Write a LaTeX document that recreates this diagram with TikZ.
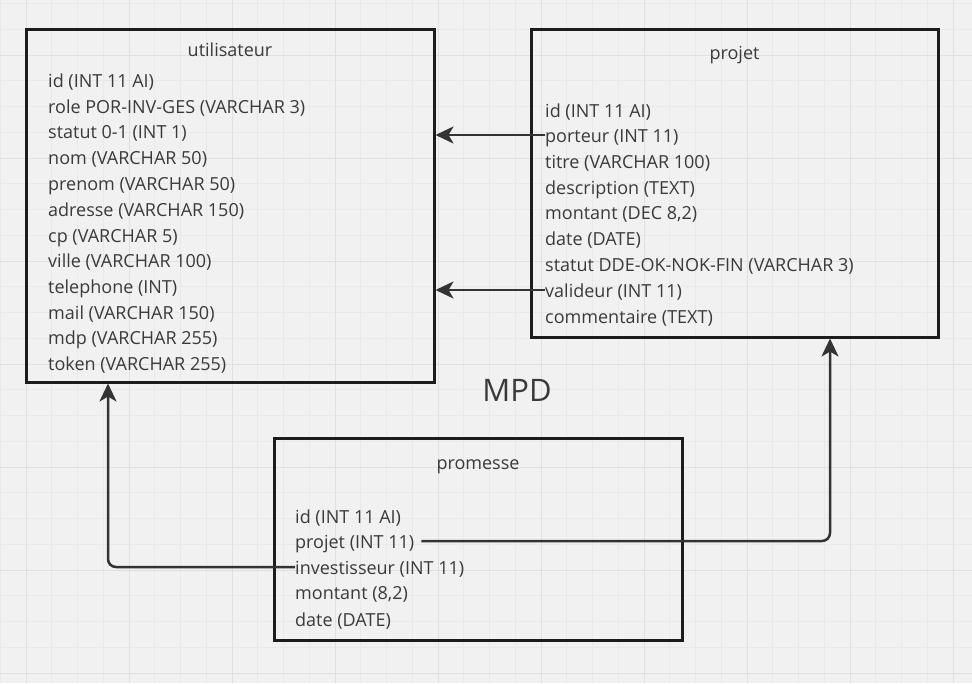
\documentclass[tikz,border=0pt]{standalone}
\usepackage{fontspec}
\setmainfont{Open Sans}
\usetikzlibrary{arrows.meta}
\definecolor{bg}{HTML}{F1F1F1}
\definecolor{gridminor}{HTML}{E9E9E9}
\definecolor{gridmajor}{HTML}{E0E0E0}
\definecolor{ink}{HTML}{1C1C1C}
\definecolor{txt}{HTML}{3A3A3A}
\definecolor{link}{HTML}{333333}
\tikzset{
  table/.style={draw=ink, line width=3pt, fill=none, inner sep=0pt},
  title/.style={text=txt, font=\fontsize{18}{21}\selectfont, inner sep=0pt, anchor=base},
  field/.style={text=txt, font=\fontsize{18}{21}\selectfont, inner sep=0pt, anchor=base west},
  fk/.style={draw=link, line width=2.5pt, rounded corners=8pt,
    -{Stealth[length=18pt, width=17pt, inset=5pt]}},
}
\begin{document}
\begin{tikzpicture}[x=1pt, y=-1pt]
  % canvas and grid
  \fill[bg] (0,0) rectangle (972,683);
  \useasboundingbox (0,0) rectangle (972,683);
  \foreach \i in {0,...,38} {
    \draw[gridminor, line width=0.8pt] ({0.25+25.75*\i},0) -- ({0.25+25.75*\i},683);
  }
  \foreach \j in {0,...,27} {
    \draw[gridminor, line width=0.8pt] (0,{3.5+25.75*\j}) -- (972,{3.5+25.75*\j});
  }
  \foreach \i in {0,...,9} {
    \draw[gridmajor, line width=1pt] ({26+103*\i},0) -- ({26+103*\i},683);
  }
  \foreach \j in {0,...,6} {
    \draw[gridmajor, line width=1pt] (0,{55+103*\j}) -- (972,{55+103*\j});
  }

  % tables
  \node[table, minimum width=408pt, minimum height=353pt] (util) at (230,205.5) {};
  \node[table, minimum width=407pt, minimum height=308pt] (proj) at (734.5,183) {};
  \node[table, minimum width=408pt, minimum height=202pt] (prom) at (478,539) {};

  % utilisateur
  \node[title] (utitle) at (230,56) {utilisateur};
  \node[field] (uid)    at (48,87)  {id (INT 11 AI)};
  \node[field] (urole)  at (48,113) {role POR-INV-GES (VARCHAR 3)};
  \node[field] (ustat)  at (48,138) {statut 0-1 (INT 1)};
  \node[field] (unom)   at (48,164) {nom (VARCHAR 50)};
  \node[field] (upre)   at (48,190) {prenom (VARCHAR 50)};
  \node[field] (uadr)   at (48,216) {adresse (VARCHAR 150)};
  \node[field] (ucp)    at (48,242) {cp (VARCHAR 5)};
  \node[field] (uvil)   at (48,267) {ville (VARCHAR 100)};
  \node[field] (utel)   at (48,293) {telephone (INT)};
  \node[field] (umail)  at (48,319) {mail (VARCHAR 150)};
  \node[field] (umdp)   at (48,344) {mdp (VARCHAR 255)};
  \node[field] (utok)   at (48,370) {token (VARCHAR 255)};

  % projet
  \node[title] (ptitle) at (734.5,59) {projet};
  \node[field] (pid)    at (545,117) {id (INT 11 AI)};
  \node[field] (ppor)   at (545,142) {porteur (INT 11)};
  \node[field] (ptit)   at (545,168) {titre (VARCHAR 100)};
  \node[field] (pdesc)  at (545,194) {description (TEXT)};
  \node[field] (pmont)  at (545,219) {montant (DEC 8,2)};
  \node[field] (pdate)  at (545,245) {date (DATE)};
  \node[field] (pstat)  at (545,271) {statut DDE-OK-NOK-FIN (VARCHAR 3)};
  \node[field] (pval)   at (545,297) {valideur (INT 11)};
  \node[field] (pcom)   at (545,323) {commentaire (TEXT)};

  % promesse
  \node[title] (rtitle) at (478,469) {promesse};
  \node[field] (rid)    at (295,523) {id (INT 11 AI)};
  \node[field] (rproj)  at (295,548) {projet (INT 11)};
  \node[field] (rinv)   at (295,574) {investisseur (INT 11)};
  \node[field] (rmont)  at (295,599) {montant (8,2)};
  \node[field] (rdate)  at (295,626) {date (DATE)};

  % caption
  \node[text=txt, font=\fontsize{31}{35}\selectfont, inner sep=0pt] (mpd) at (517,390) {MPD};

  % connector anchors
  \coordinate (porA) at (545,135);
  \coordinate (valA) at (545,290);
  \coordinate (invA) at (295,567);
  \coordinate (invB) at (108,567);
  \coordinate (prjA) at ([xshift=7pt]rproj.east |- 0,541);
  \coordinate (prjB) at (830,541);

  % foreign keys
  \draw[fk] (porA) -- (util.east |- porA);
  \draw[fk] (valA) -- (util.east |- valA);
  \draw[fk] (invA) -- (invB) -- (invB |- util.south);
  \draw[fk] (prjA) -- (prjB) -- (prjB |- proj.south);
\end{tikzpicture}
\end{document}
